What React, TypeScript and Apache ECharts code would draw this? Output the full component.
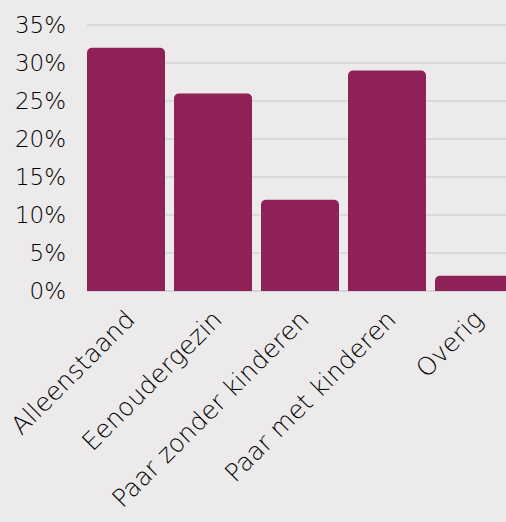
import React, { useEffect, useRef } from "react";
import * as echarts from "echarts";

const categories = ["Alleenstaand", "Eenoudergezin", "Paar zonder kinderen", "Paar met kinderen", "Overig"];
const values = [32, 26, 12, 29, 2];
const spacer = [null, null, null, null, null];

export default function App() {
  const ref = useRef<HTMLDivElement>(null);
  useEffect(() => {
    const chart = echarts.init(ref.current!, null, { renderer: "svg" });
    chart.setOption({
      animation: false,
      backgroundColor: "#ECEAEA",
      textStyle: { fontFamily: "DejaVu Sans" },
      grid: { left: 87, right: 0, top: 25, bottom: 231, containLabel: false },
      xAxis: {
        type: "category",
        data: categories,
        axisLine: { show: true, lineStyle: { color: "#D6D4D4", width: 1.5 } },
        axisTick: { show: false },
        axisLabel: {
          rotate: 45,
          fontSize: 25,
          fontWeight: 300,
          color: "#000000",
          margin: 24,
          interval: 0,
          fontFamily: "DejaVu Sans",
        },
      },
      yAxis: {
        type: "value",
        min: 0,
        max: 35,
        interval: 5,
        axisLine: { show: false },
        axisTick: { show: false },
        splitLine: { lineStyle: { color: "#D6D4D4", width: 1.5 } },
        axisLabel: {
          formatter: "{value}%",
          fontSize: 23,
          fontWeight: 300,
          color: "#000000",
          margin: 21,
          fontFamily: "DejaVu Sans",
        },
      },
      series: [
        {
          type: "bar",
          data: values,
          barWidth: 78,
          barGap: 0,
          barCategoryGap: 0,
          itemStyle: { color: "#8E2157", borderRadius: [5, 5, 0, 0] },
        },
        {
          type: "bar",
          data: spacer,
          barWidth: 9,
          barGap: 0,
          itemStyle: { color: "transparent" },
        },
      ],
    });
    return () => chart.dispose();
  }, []);
  return (
    <div style={{ position: "fixed", left: 0, top: 0, width: 506, height: 522, overflow: "hidden", background: "#ECEAEA" }}>
      <div ref={ref} style={{ width: 522, height: 522 }} />
    </div>
  );
}
